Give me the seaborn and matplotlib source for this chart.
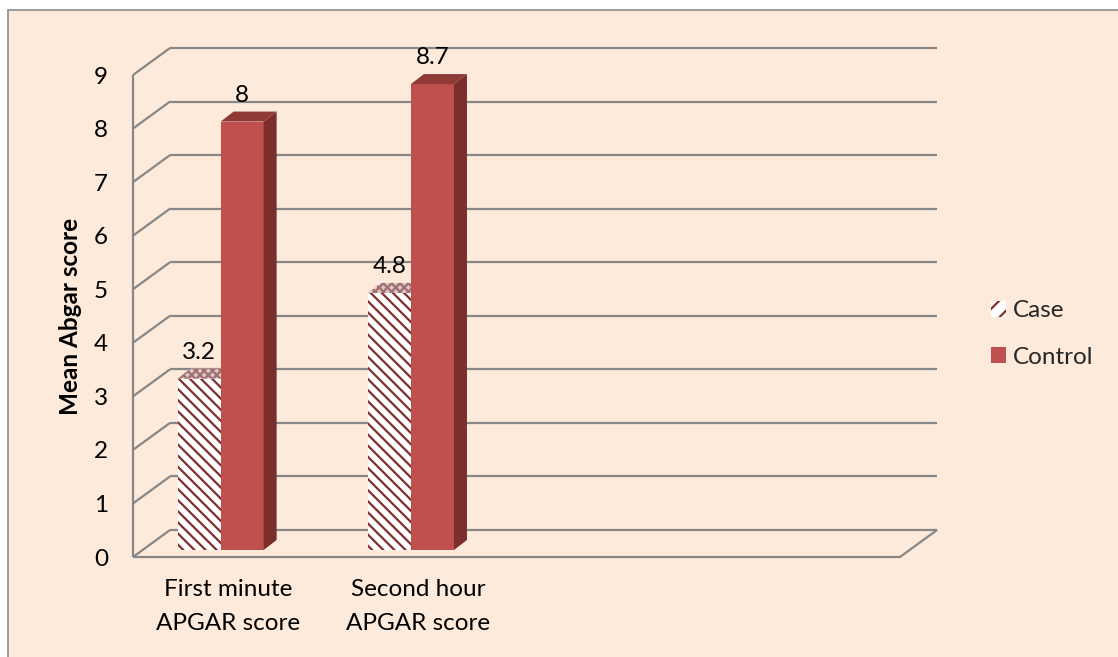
import pandas as pd
import matplotlib
matplotlib.use('Agg')
import matplotlib.pyplot as plt
import seaborn as sns
from matplotlib.patches import Polygon, Rectangle, Patch
from matplotlib.transforms import ScaledTranslation

# chart data
tests = ['First minute\nAPGAR score', 'Second hour\nAPGAR score']
groups = ['Case', 'Control']
case_scores = [3.2, 4.8]
control_scores = [8.0, 8.7]
y_ticks = list(range(0, 10))

df = pd.DataFrame({
    'test': tests * 2,
    'group': ['Case'] * len(tests) + ['Control'] * len(tests),
    'score': case_scores + control_scores,
})

BG = '#FDEADA'
GRID = '#878787'
RED = '#C0504D'
RED_SIDE = '#7B2F2D'
RED_TOP = '#8F3A37'
MAROON = '#7F2F2D'
FS = 17.5

sns.set_theme(style='white')
plt.rcParams['font.family'] = ['Lato', 'DejaVu Sans']
plt.rcParams['hatch.linewidth'] = 1.6

W, H = 1118, 657
fig = plt.figure(figsize=(W / 100, H / 100), dpi=100)
fig.patch.set_facecolor('white')
fig.patches.append(Rectangle((8 / W, -0.05), 1.1, 1.05 - 10 / H, transform=fig.transFigure,
                             facecolor=BG, edgecolor='#8c8c8c', lw=1.2, zorder=-10))

ax_w, ax_h = 767, 482
ax = fig.add_axes([133 / W, 100 / H, ax_w / W, ax_h / H])
ax.set_facecolor('none')

sns.barplot(data=df, x='test', y='score', hue='group', order=tests, hue_order=groups,
            width=0.452, palette={'Case': 'white', 'Control': RED}, saturation=1,
            legend=False, ax=ax)

XMIN, XMAX = -0.41, 3.62
ax.set_xlim(XMIN, XMAX)
ax.set_ylim(0, 9)
sx = ax_w / (XMAX - XMIN)
sy = ax_h / 9.0


def px(dx, dy):
    return dx / sx, dy / sy


# walls and floor
DX, DY = px(37, 27)
lk = dict(color=GRID, lw=1.6, clip_on=False, zorder=1, solid_capstyle='butt')
ax.plot([XMIN, XMIN], [0, 9], **lk)
for y in y_ticks:
    ax.plot([XMIN, XMIN + DX], [y, y + DY], **lk)
    ax.plot([XMIN + DX, XMAX + DX], [y + DY, y + DY], **lk)
ax.plot([XMIN, XMAX, XMAX + DX], [0, 0, DY], **lk)

# 3D bars
bx, by = px(9.6, 7)
ddx, ddy = px(13, 10)
for gi, cont in enumerate(ax.containers):
    for p in cont.patches:
        x0 = p.get_x() + bx
        w = p.get_width()
        h = p.get_height()
        p.set_x(x0)
        p.set_y(by)
        p.set_linewidth(0)
        p.set_clip_on(False)
        p.set_zorder(3 + gi)
        x1 = x0 + w
        top = h + by
        top_poly = [(x0, top), (x0 + ddx, top + ddy), (x1 + ddx, top + ddy), (x1, top)]
        if groups[gi] == 'Case':
            p.set_edgecolor(MAROON)
            p.set_hatch('\\\\\\')
            ax.add_patch(Polygon(top_poly, closed=True, facecolor='#d9c6c6', edgecolor='#a07070',
                                 hatch='xxxx', lw=0, clip_on=False, zorder=3))
        else:
            side = [(x1, by), (x1 + ddx, by + ddy), (x1 + ddx, top + ddy), (x1, top)]
            ax.add_patch(Polygon(side, closed=True, facecolor=RED_SIDE, lw=0,
                                 clip_on=False, zorder=4))
            ax.add_patch(Polygon(top_poly, closed=True, facecolor=RED_TOP, lw=0,
                                 clip_on=False, zorder=4))
        ax.annotate(f'{h:g}', xy=(x0 + w / 2, top), xytext=(0, 19), textcoords='offset points',
                    ha='center', va='center', fontsize=FS, color='black', zorder=6,
                    annotation_clip=False)

# axes text
for s in ax.spines.values():
    s.set_visible(False)
ax.set_yticks(y_ticks)
ax.set_yticklabels([str(t) for t in y_ticks])
ax.tick_params(axis='both', length=0, labelsize=FS, colors='black')
ax.tick_params(axis='y', pad=18)
ax.tick_params(axis='x', pad=16)
ax.set_xlabel('')
ax.set_ylabel('Mean Abgar score', fontsize=17.5, fontweight='bold', color='black')
ax.yaxis.set_label_coords(-(133 - 82) / ax_w, 0.5)
shift = ScaledTranslation(17 / 100, 0, fig.dpi_scale_trans)
for lbl in ax.get_xticklabels():
    lbl.set_transform(lbl.get_transform() + shift)
    lbl.set_linespacing(1.75)

handles = [Patch(facecolor='white', edgecolor=MAROON, hatch='//', lw=0),
           Patch(facecolor=RED, edgecolor=RED, lw=0)]
fig.legend(handles, groups, loc='center left', bbox_to_anchor=(991 / W, 1 - 334 / H),
           frameon=False, fontsize=FS, handlelength=0.62, handleheight=0.62,
           handletextpad=0.3, labelspacing=1.05, borderpad=0, borderaxespad=0)

fig.savefig('out.png', dpi=100, facecolor=fig.get_facecolor())
